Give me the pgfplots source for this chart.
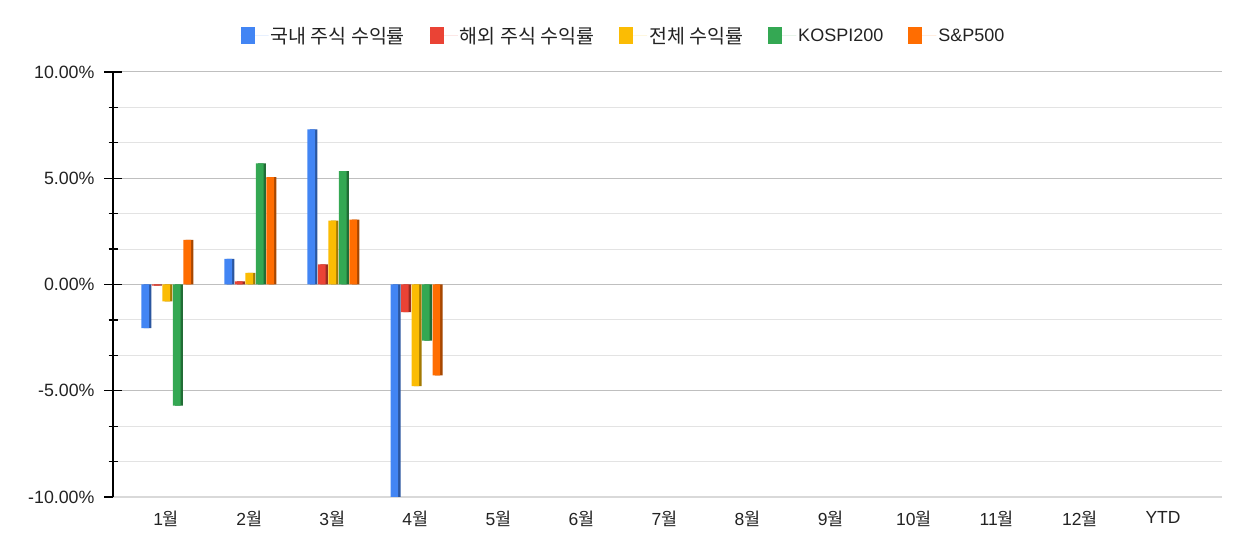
\documentclass[border=0pt]{standalone}
\usepackage{pgfplots}
\pgfplotsset{compat=1.18}
\usepackage{pgfplotstable}
\usepackage{fontspec}
\setmainfont{Liberation Sans}
\newfontfamily\kr{Noto Sans CJK KR}
\definecolor{cBlue}{HTML}{4285F4}
\definecolor{cRed}{HTML}{EA4335}
\definecolor{cYel}{HTML}{FBBC04}
\definecolor{cGrn}{HTML}{34A853}
\definecolor{cOrg}{HTML}{FF6D01}
\definecolor{txt}{HTML}{222222}
\pgfplotstableread{
x dom for tot kospi sp
0 -2.05 -0.05 -0.80 -5.70 2.10
1 1.20 0.15 0.55 5.70 5.05
2 7.30 0.95 3.00 5.33 3.05
3 -11.00 -1.30 -4.78 -2.64 -4.28
}\data
\pgfplotsset{
  sq/.style={legend image code/.code={\path (0bp,0bp) -- (28bp,0bp);\fill[##1] (0bp,-8.5bp) rectangle (14bp,8.5bp);}},
}
\begin{document}
\begin{tikzpicture}
\path[use as bounding box] (0,0) rectangle (1248bp,556bp);
\begin{axis}[
  at={(113bp,59bp)}, anchor=south west, scale only axis,
  width=1109bp, height=425bp,
  xmin=-0.64, xmax=12.71, ymin=-10, ymax=10,
  ybar, bar width=7.7bp,
  xtick={0,...,12},
  xticklabels={1{\kr 월},2{\kr 월},3{\kr 월},4{\kr 월},5{\kr 월},6{\kr 월},7{\kr 월},8{\kr 월},9{\kr 월},10{\kr 월},11{\kr 월},12{\kr 월},YTD},
  xticklabel style={font=\fontsize{17.5bp}{20bp}\selectfont, text=txt, yshift=7bp},
  ytick={-10,-5,0,5,10},
  yticklabels={-10.00\%,-5.00\%,0.00\%,5.00\%,10.00\%},
  yticklabel style={font=\fontsize{17.8bp}{20bp}\selectfont, text=txt, xshift=-6bp},
  minor y tick num=2,
  ymajorgrids, yminorgrids,
  major grid style={draw=black!25, line width=1bp},
  minor grid style={draw=black!11, line width=1bp},
  extra y ticks={0}, extra y tick labels={},
  extra y tick style={grid style={draw=black, line width=1bp}},
  axis x line*=bottom, axis y line*=left,
  x axis line style={draw=black!15, line width=2.5bp, -},
  y axis line style={draw=black, line width=1.2bp, -},
  xtick style={draw=none},
  ytick style={draw=black, line width=1.2bp},
  ytick align=center,
  major tick length=18bp, minor tick length=9bp,
  legend columns=5,
  legend style={at={(0.4603,1.085)}, anchor=center, draw=none, fill=none,
    font=\fontsize{19.5bp}{21bp}\selectfont\kr, text=txt,
    /tikz/every even column/.append style={column sep=23bp}},
]
% side faces (3D effect)
\addplot[draw=none, fill=cBlue!65!black, bar shift=-18.7bp, forget plot] table[x=x,y=dom]{\data};
\addplot[draw=none, fill=cRed!65!black, bar shift=-8.2bp, forget plot] table[x=x,y=for]{\data};
\addplot[draw=none, fill=cYel!65!black, bar shift=2.3bp, forget plot] table[x=x,y=tot]{\data};
\addplot[draw=none, fill=cGrn!65!black, bar shift=12.8bp, forget plot] table[x=x,y=kospi]{\data};
\addplot[draw=none, fill=cOrg!65!black, bar shift=23.3bp, forget plot] table[x=x,y=sp]{\data};
% front faces
\addplot[draw=none, fill=cBlue, bar shift=-21bp, sq] table[x=x,y=dom]{\data};
\addplot[draw=none, fill=cRed, bar shift=-10.5bp, sq] table[x=x,y=for]{\data};
\addplot[draw=none, fill=cYel, bar shift=0bp, sq] table[x=x,y=tot]{\data};
\addplot[draw=none, fill=cGrn, bar shift=10.5bp, sq] table[x=x,y=kospi]{\data};
\addplot[draw=none, fill=cOrg, bar shift=21bp, sq] table[x=x,y=sp]{\data};
\legend{국내 주식 수익률, 해외 주식 수익률, 전체 수익률, {\rmfamily\fontsize{18bp}{20bp}\selectfont KOSPI200}, {\rmfamily\fontsize{18bp}{20bp}\selectfont S\&P500}}
\end{axis}
\end{tikzpicture}
\end{document}
